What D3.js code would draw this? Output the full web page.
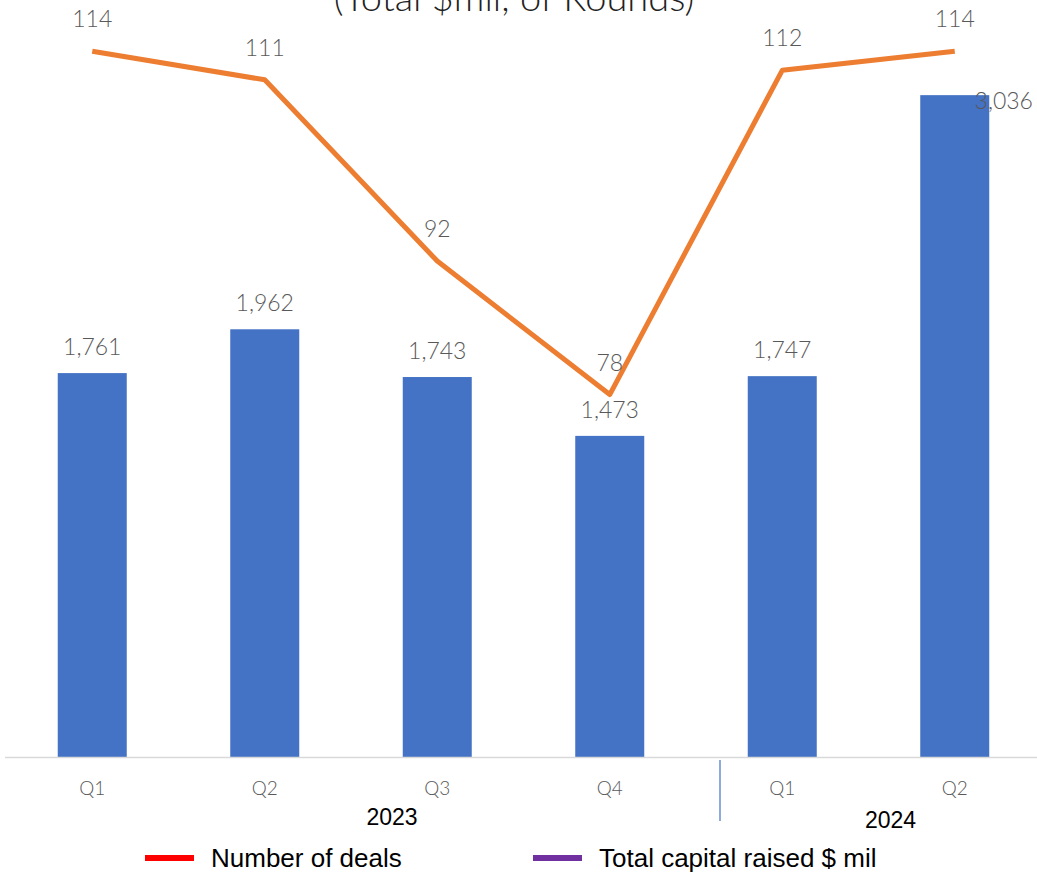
<!DOCTYPE html>
<html lang="en">
<head>
  <meta charset="UTF-8">
  <title>Deals and Capital Raised by Quarter</title>
  <style>
    body { margin: 0; background: #fff; }
    .value-label { font-family: "Lato", "Open Sans", sans-serif; font-weight: 300; font-size: 23px; fill: #595959; }
    .quarter-label { font-family: "Lato", "Open Sans", sans-serif; font-weight: 300; font-size: 19px; fill: #595959; }
    .year-label { font-family: "Liberation Sans Narrow", "Liberation Sans", sans-serif; font-size: 23px; fill: #000; }
    .legend text { font-family: "Liberation Sans Narrow", "Liberation Sans", sans-serif; font-size: 26px; fill: #000; }
    .title { font-family: "Lato", "Open Sans", sans-serif; font-weight: 300; font-size: 38px; fill: #222; }
  </style>
</head>
<body>
<svg class="chart"></svg>

<script src="https://d3js.org/d3.v7.min.js"></script>
<script>
  // Chart data
  const quarters = ['Q1', 'Q2', 'Q3', 'Q4', 'Q1', 'Q2'];
  const years = ['2023', '2023', '2023', '2023', '2024', '2024'];
  const capitalRaised = [1761, 1962, 1743, 1473, 1747, 3036];
  const dealCount = [114, 111, 92, 78, 112, 114];
  const legendLabels = ['Number of deals', 'Total capital raised $ mil'];

  const width = 1037;
  const height = 872;
  const plotTop = -6;
  const plotBottom = 757;

  const svg = d3.select('.chart')
    .attr('width', width)
    .attr('height', height);

  // Scales
  const ids = quarters.map((q, i) => i);
  const xScale = d3.scaleBand()
    .domain(ids)
    .range([6, 1041])
    .paddingInner(0.6)
    .paddingOuter(0.3);

  const yBar = d3.scaleLinear()
    .domain([0, 3500])
    .range([plotBottom, plotTop]);

  const yLine = d3.scaleLinear()
    .domain([40, 120])
    .range([plotBottom, plotTop]);

  const step = xScale.step();
  const cx = i => xScale(i) + xScale.bandwidth() / 2;

  // Title (its upper part runs past the top edge)
  svg.append('text')
    .attr('class', 'title')
    .attr('x', 514)
    .attr('y', 11)
    .attr('text-anchor', 'middle')
    .text('(Total $mil, of Rounds)');

  // Bars
  svg.selectAll('.bar')
    .data(capitalRaised)
    .enter().append('rect')
    .attr('class', 'bar')
    .attr('x', (d, i) => xScale(i))
    .attr('width', xScale.bandwidth())
    .attr('y', d => yBar(d))
    .attr('height', d => plotBottom - yBar(d))
    .attr('fill', '#4472C4');

  // Bar value labels; the tallest one sits at the bar's top right corner
  const last = capitalRaised.length - 1;
  svg.selectAll('.bar-label')
    .data(capitalRaised)
    .enter().append('text')
    .attr('class', 'value-label')
    .attr('text-anchor', 'middle')
    .attr('x', (d, i) => i === last ? cx(i) + 49 : cx(i))
    .attr('y', (d, i) => i === last ? yBar(d) + 14 : yBar(d) - 18)
    .text(d => d3.format(',')(d));

  // Axis baseline
  svg.append('line')
    .attr('x1', 5).attr('x2', width)
    .attr('y1', plotBottom + 0.5).attr('y2', plotBottom + 0.5)
    .attr('stroke', '#d9d9d9')
    .attr('stroke-width', 1.5);

  // Deals line
  const line = d3.line()
    .x((d, i) => cx(i))
    .y(d => yLine(d));

  svg.append('path')
    .datum(dealCount)
    .attr('d', line)
    .attr('fill', 'none')
    .attr('stroke', '#ED7D31')
    .attr('stroke-width', 5)
    .attr('stroke-linejoin', 'round');

  svg.selectAll('.line-label')
    .data(dealCount)
    .enter().append('text')
    .attr('class', 'value-label')
    .attr('text-anchor', 'middle')
    .attr('x', (d, i) => cx(i))
    .attr('y', d => yLine(d) - 24)
    .text(d => d);

  // Quarter labels
  svg.selectAll('.quarter-label')
    .data(quarters)
    .enter().append('text')
    .attr('class', 'quarter-label')
    .attr('text-anchor', 'middle')
    .attr('x', (d, i) => cx(i))
    .attr('y', 795)
    .text(d => d);

  // Year groups
  const yearGroups = Array.from(d3.group(ids, i => years[i]), ([year, idx]) => ({
    year,
    first: d3.min(idx),
    last: d3.max(idx)
  }));

  const yearOffset = { '2023': 41, '2024': 22 };
  const yearY = { '2023': 825, '2024': 828 };

  svg.selectAll('.year-label')
    .data(yearGroups)
    .enter().append('text')
    .attr('class', 'year-label')
    .attr('text-anchor', 'middle')
    .attr('x', d => (cx(d.first) + cx(d.last)) / 2 + yearOffset[d.year])
    .attr('y', d => yearY[d.year])
    .text(d => d.year);

  // Divider between year groups
  yearGroups.slice(1).forEach(g => {
    const xDiv = xScale(g.first) - (step - xScale.bandwidth()) / 2 + 24;
    svg.append('line')
      .attr('x1', xDiv).attr('x2', xDiv)
      .attr('y1', 760).attr('y2', 821)
      .attr('stroke', '#4472C4')
      .attr('stroke-width', 1.2);
  });

  // Legend
  const legendColors = ['#FF0000', '#7030A0'];
  const legendX = [145, 533];
  const legend = svg.append('g').attr('class', 'legend');

  legendLabels.forEach((label, i) => {
    legend.append('rect')
      .attr('x', legendX[i])
      .attr('y', 855)
      .attr('width', 49)
      .attr('height', 6)
      .attr('fill', legendColors[i]);
    legend.append('text')
      .attr('x', legendX[i] + 66)
      .attr('y', 867)
      .text(label);
  });
</script>
</body>
</html>
